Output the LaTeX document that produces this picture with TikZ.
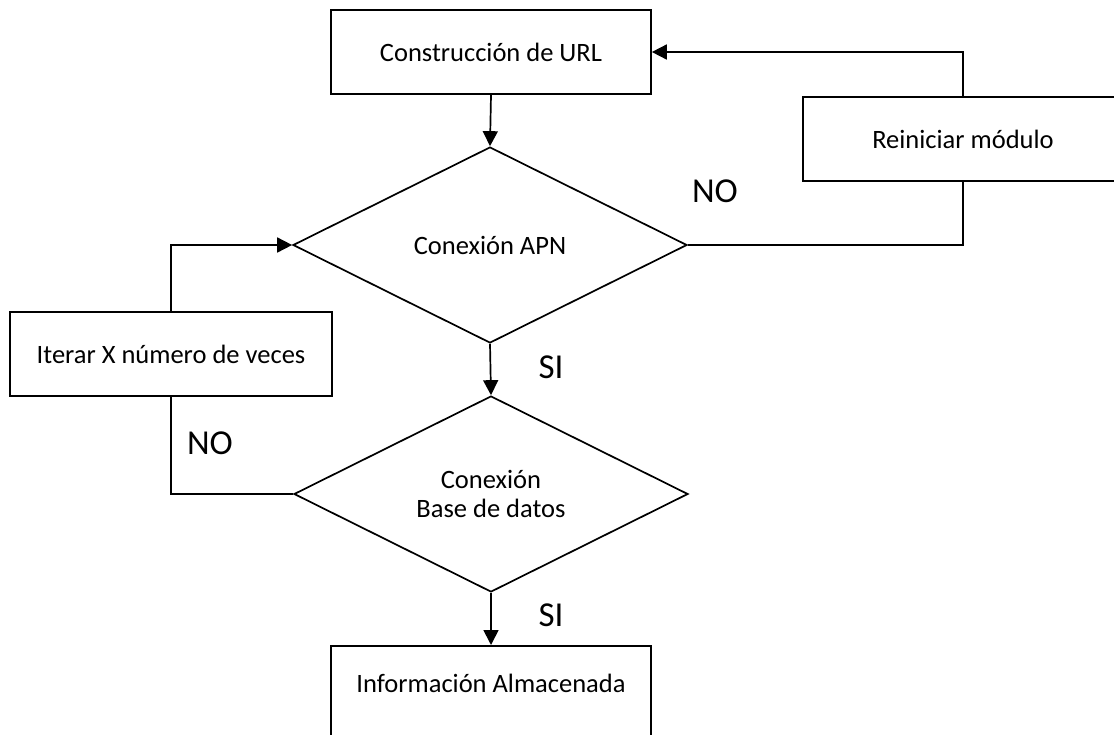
\documentclass[tikz,border=0pt]{standalone}
\usepackage{fontspec}
\setmainfont{Carlito}
\usetikzlibrary{shapes.geometric,arrows.meta}
\begin{document}
\begin{tikzpicture}[x=1pt,y=-1pt,
  every node/.style={font=\fontsize{26.5}{32}\selectfont, inner sep=0pt},
  box/.style={draw, line width=1.7pt, minimum width=320pt, minimum height=84pt},
  dec/.style={draw, diamond, aspect=2, line width=1.7pt, minimum width=394pt, minimum height=196pt, align=center},
  conn/.style={line width=1.7pt},
  arr/.style={conn, -{Triangle[length=15pt,width=15pt]}},
  lab/.style={font=\fontsize{35}{40}\selectfont}
]
\useasboundingbox (0,0) rectangle (1114,734);
\node[box] (url) at (491,52) {Construcción de URL};
\node[dec] (apn) at (490,245) {Conexión APN};
\node[box] (rein) at (963,139) {Reiniciar módulo};
\node[box, minimum width=322pt] (iter) at (171,354) {Iterar X número de veces};
\node[dec] (bd) at (491,494) {Conexión\\[-3pt]Base de datos};
\node[box, minimum height=110pt, anchor=north] (info) at (491,645) {};
\node (infot) at (491,683) {Información Almacenada};
\node[lab] (no1) at (715,191) {NO};
\node[lab] (si1) at (551,367) {SI};
\node[lab] (no2) at (210,443) {NO};
\node[lab] (si2) at (551,615) {SI};
\draw[arr] (url.south) -- (apn.north);
\draw[conn] (apn.east) -| (rein.south);
\draw[arr] (rein.north) |- (url.east);
\draw[arr] (apn.south) -- (bd.north);
\draw[conn] (bd.west) -| (iter.south);
\draw[arr] (iter.north) |- (apn.west);
\draw[arr] (bd.south) -- (info.north);
\end{tikzpicture}
\end{document}
